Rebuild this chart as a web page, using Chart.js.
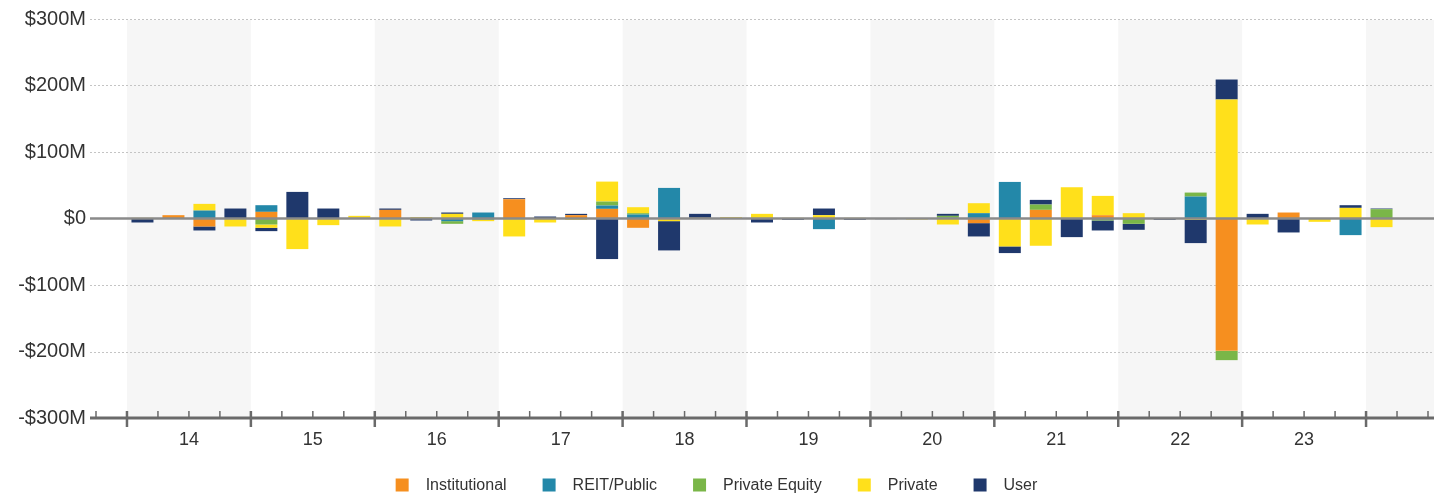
<!DOCTYPE html>
<html><head><meta charset="utf-8">
<script src="https://cdn.jsdelivr.net/npm/chart.js@4.4.1/dist/chart.umd.min.js"></script>
<style>html,body{margin:0;padding:0;background:#fff}#wrap{width:1443px;height:494px;position:relative}</style>
</head><body><div id="wrap"><canvas id="c" width="1443" height="494"></canvas></div>
<script>
// Quarterly categories (2013 Q4 and 2024 Q2 are empty slots on the axis)
const categories = [
  '2013 Q4',
  '2014 Q1','2014 Q2','2014 Q3','2014 Q4',
  '2015 Q1','2015 Q2','2015 Q3','2015 Q4',
  '2016 Q1','2016 Q2','2016 Q3','2016 Q4',
  '2017 Q1','2017 Q2','2017 Q3','2017 Q4',
  '2018 Q1','2018 Q2','2018 Q3','2018 Q4',
  '2019 Q1','2019 Q2','2019 Q3','2019 Q4',
  '2020 Q1','2020 Q2','2020 Q3','2020 Q4',
  '2021 Q1','2021 Q2','2021 Q3','2021 Q4',
  '2022 Q1','2022 Q2','2022 Q3','2022 Q4',
  '2023 Q1','2023 Q2','2023 Q3','2023 Q4',
  '2024 Q1','2024 Q2'
];
const yearTickLabels = ['14','15','16','17','18','19','20','21','22','23'];
const yTickValues = [300,200,100,0,-100,-200,-300];

// Values in $M
const institutional = [null,
  0,5,-12,0,
  10,0,0,1,
  13,0,0,0,
  29,0,5,14.5,
  -14,0,0,0,
  0,0,1,0,
  0,0,0,-7,
  0,13,0,5,
  0,0,0,-199,
  0,9,0,0,
  0,null];
const reitPublic = [null,
  0,0,12,0,
  10,0,0,0,
  0,0,-4,9,
  0,0,0,5,
  6,46,0,0,
  0,0,-16,0,
  0,0,1,8,
  55,0,0,0,
  0,0,33,0,
  0,0,0,-25,
  0,null];
const privateEquity = [null,
  0,0,0,0,
  -9,0,0,0,
  0,0,-4,-2,
  0,0,0,6,
  2,0,0,0,
  0,0,0,0,
  0,0,3,0,
  0,8,0,-3,
  -8,0,6,-14,
  0,0,0,0,
  14,null];
const privateBuyers = [null,
  1,0,10,-12,
  -5,-46,-10,3,
  -12,2,7,-2,
  -27,-6,-2,30,
  9,-4,1,2,
  7,1,4,1,
  0.5,-1.5,-9,15,
  -42,-41,47,29,
  8,0,-2,179,
  -9,0,-5,16,
  -13,null];
const user = [null,
  -6,0,-6,15,
  -5,40,15,0,
  2,-3,2,0,
  1.5,3,2,-61,
  0,-44,6,0,
  -6,-2,10,-2,
  -1,0,3,-20,
  -10,7,-28,-15,
  -9,-2,-35,30,
  7,-21,0,4,
  1,null];

const seriesNames = ['Institutional','REIT/Public','Private Equity','Private','User'];
const seriesColors = ['#F68F1F','#2388A9','#7AB648','#FFE01B','#1F386C'];
const seriesData = [institutional, reitPublic, privateEquity, privateBuyers, user];

const FONT = '"Liberation Sans", Arial, Helvetica, sans-serif';
const TXT = '#333333';

function fmtMoney(v){
  if (v === 0) return '$0';
  return (v < 0 ? '-' : '') + '$' + Math.abs(v) + 'M';
}

const decor = {
  id: 'decor',
  beforeDatasetsDraw(chart){
    const {ctx, chartArea: a, scales: {x, y}} = chart;
    const step = x.getPixelForValue(1) - x.getPixelForValue(0);
    const half = step / 2;
    const L = a.left - 6, R = a.right + 6;
    ctx.save();
    // alternating year bands
    ctx.fillStyle = '#f6f6f6';
    const years = [...new Set(categories.map(c => c.slice(0, 4)))];
    years.forEach(yr => {
      if (+yr % 2 !== 0) return;
      const idx = categories.map((c, i) => c.startsWith(yr) ? i : -1).filter(i => i >= 0);
      const first = idx[0], last = idx[idx.length - 1];
      let x0 = x.getPixelForValue(first) - half;
      let x1 = x.getPixelForValue(last) + half;
      if (first === 0) x0 = L;
      if (last === categories.length - 1) x1 = R;
      ctx.fillRect(x0, a.top + 1, x1 - x0, a.bottom - a.top - 1);
    });
    // dotted horizontal grid
    ctx.strokeStyle = '#c4c4c4';
    ctx.lineWidth = 1;
    ctx.setLineDash([2, 2]);
    yTickValues.forEach(v => {
      if (v === 0 || v === y.min) return;
      const py = Math.round(y.getPixelForValue(v)) + 0.5;
      ctx.beginPath(); ctx.moveTo(L, py); ctx.lineTo(R, py); ctx.stroke();
    });
    ctx.restore();
  },
  afterDatasetsDraw(chart){
    const {ctx, chartArea: a, scales: {x, y}} = chart;
    const step = x.getPixelForValue(1) - x.getPixelForValue(0);
    const half = step / 2;
    const L = a.left - 6, R = a.right + 6;
    ctx.save();
    // zero line
    const y0 = y.getPixelForValue(0);
    ctx.strokeStyle = '#8a8a8a';
    ctx.lineWidth = 2.7;
    ctx.beginPath(); ctx.moveTo(L, y0); ctx.lineTo(R, y0); ctx.stroke();
    // x axis line
    const yb = y.getPixelForValue(y.min);
    ctx.strokeStyle = '#6a6a6a';
    ctx.lineWidth = 3;
    ctx.beginPath(); ctx.moveTo(L, yb); ctx.lineTo(R, yb); ctx.stroke();
    // ticks at quarter boundaries
    for (let i = 0; i <= categories.length; i++) {
      const px = (i < categories.length ? x.getPixelForValue(i) - half : x.getPixelForValue(i - 1) + half);
      const isYear = i < categories.length && categories[i].endsWith('Q1');
      ctx.beginPath();
      if (isYear) {
        ctx.lineWidth = 2.5;
        ctx.moveTo(px, yb - 7); ctx.lineTo(px, yb + 9);
      } else {
        ctx.lineWidth = 1.5;
        ctx.moveTo(px, yb - 7); ctx.lineTo(px, yb);
      }
      ctx.stroke();
    }
    // year labels
    ctx.fillStyle = TXT;
    ctx.font = '18px ' + FONT;
    ctx.textAlign = 'center';
    ctx.textBaseline = 'middle';
    yearTickLabels.forEach(lbl => {
      const i1 = categories.indexOf('20' + lbl + ' Q1');
      const i4 = categories.indexOf('20' + lbl + ' Q4');
      const cx = (x.getPixelForValue(i1) + x.getPixelForValue(i4)) / 2;
      ctx.fillText(lbl, cx, yb + 22);
    });
    // legend
    ctx.font = '16px ' + FONT;
    ctx.textAlign = 'left';
    const boxW = 13, boxH = 13, gap = 17, spacing = 36;
    const ds = chart.data.datasets;
    const widths = ds.map(d => boxW + gap + ctx.measureText(d.label).width);
    const total = widths.reduce((s, w) => s + w, 0) + spacing * (ds.length - 1);
    let lx = chart.width / 2 - 5 - total / 2;
    const ly = chart.height - 9;
    ds.forEach((d, i) => {
      ctx.fillStyle = d.backgroundColor;
      ctx.fillRect(lx, ly - boxH / 2, boxW, boxH);
      ctx.fillStyle = TXT;
      ctx.fillText(d.label, lx + boxW + gap, ly + 1);
      lx += widths[i] + spacing;
    });
    ctx.restore();
  }
};

Chart.defaults.font.family = FONT;
new Chart(document.getElementById('c'), {
  type: 'bar',
  data: {
    labels: categories,
    datasets: seriesNames.map((n, i) => ({
      label: n,
      data: seriesData[i],
      backgroundColor: seriesColors[i],
      borderWidth: 0,
      categoryPercentage: 1,
      barPercentage: 0.71
    }))
  },
  options: {
    responsive: false,
    animation: false,
    devicePixelRatio: 1,
    layout: { padding: { top: 19, right: 15, left: 0, bottom: 0 } },
    plugins: { legend: { display: false }, tooltip: { enabled: false } },
    scales: {
      x: {
        stacked: true,
        grid: { display: false },
        border: { display: false },
        ticks: { display: false },
        afterFit(s){ s.height = 76; }
      },
      y: {
        stacked: true,
        min: -300, max: 300,
        afterBuildTicks(s){ s.ticks = yTickValues.map(v => ({ value: v })); },
        afterFit(s){ s.width = 96; },
        grid: { display: false },
        border: { display: false },
        ticks: {
          padding: 2,
          color: TXT,
          font: { size: 20, family: FONT },
          callback: v => fmtMoney(v)
        }
      }
    }
  },
  plugins: [decor]
});
</script>
</body></html>
